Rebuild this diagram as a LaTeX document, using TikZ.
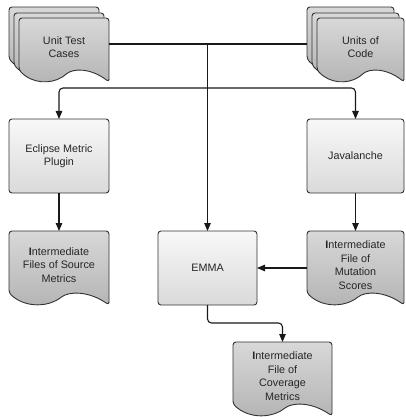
\documentclass[tikz,border=0pt]{standalone}
\usepackage{fontspec}
\setmainfont{Liberation Sans}
\usetikzlibrary{arrows.meta,calc}
\definecolor{edge}{HTML}{333333}
\definecolor{boxtop}{HTML}{F8F8F8}
\definecolor{boxbot}{HTML}{DADADA}
\definecolor{doctop}{HTML}{D8D8D8}
\definecolor{docbot}{HTML}{B4B4B4}
\definecolor{txt}{HTML}{262626}
\pgfdeclarelayer{bg}
\pgfsetlayers{bg,main}
\newcommand\docshape[3]{%
  \path[docsheet] let \p1=($(#1.north west)+(#2,#3)$), \p2=($(#1.south east)+(#2,#3)$), \n1={\x2-\x1} in
  ({\x2},{\y2-6pt}) -- ({\x2},{\y1}) -- ({\x1},{\y1}) -- ({\x1},{\y2+6pt})
  .. controls ({\x1+0.15*\n1},{\y2-8pt}) and ({\x1+0.35*\n1},{\y2-8pt}) .. ({\x1+0.5*\n1},{\y2})
  .. controls ({\x1+0.6*\n1},{\y2+8pt}) and ({\x1+0.8*\n1},{\y2+8pt}) .. ({\x2},{\y2-6pt}) -- cycle;}
\begin{document}
\begin{tikzpicture}[x=1pt,y=-1pt,
  every node/.style={font=\fontsize{10.8}{13.5}\selectfont, text=txt, align=center, inner sep=0pt, outer sep=0pt},
  procbox/.style={draw=edge, line width=0.9pt, rounded corners=3pt, top color=boxtop, bottom color=boxbot, minimum width=#1, minimum height=74pt},
  docnode/.style={minimum width=#1, minimum height=68pt},
  docsheet/.style={draw=edge, line width=0.9pt, top color=doctop, bottom color=docbot, rounded corners=3pt},
  conn/.style={draw=black!90, line width=1.1pt},
  arr/.style={conn, -{Triangle[length=8pt,width=6.5pt]}}]
\useasboundingbox (0,0) rectangle (405,417);

\node[docnode=90pt, minimum height=58pt] (utc) at (64,47) {Unit Test\\Cases};
\node[docnode=87pt, minimum height=58pt] (uoc) at (360.5,47) {Units of\\Code};
\node[procbox=100pt] (ecl) at (59,156) {Eclipse Metric\\Plugin};
\node[procbox=97pt] (jav) at (355.5,156) {Javalanche};
\node[docnode=100pt] (src) at (59,265) {\textbf{I}ntermediate\\Files of Source\\Metrics};
\node[docnode=97pt] (mut) at (355.5,265) {\textbf{I}ntermediate\\File of\\Mutation\\Scores};
\node[procbox=99pt] (emma) at (207.5,268) {EMMA};
\node[docnode=99pt] (cov) at (282.5,376) {\textbf{I}ntermediate\\File of\\Coverage\\Metrics};

\begin{pgfonlayer}{bg}
\docshape{utc}{-10}{-11}
\docshape{utc}{-5}{-5}
\docshape{utc}{0}{0}
\docshape{uoc}{-10}{-11}
\docshape{uoc}{-5}{-5}
\docshape{uoc}{0}{0}
\docshape{src}{0}{0}
\docshape{mut}{0}{0}
\docshape{cov}{0}{0}
\end{pgfonlayer}

\coordinate (j1) at (207.5,44);
\coordinate (j2) at (207.5,88);
\coordinate (uocback) at (307,44);
\draw[conn] (utc.east |- j1) -- (j1);
\draw[conn] (uocback) -- (j1);
\draw[arr] (j1) -- (emma.north);
\draw[arr, rounded corners=4pt] (j2) -| (ecl.north);
\draw[arr, rounded corners=4pt] (j2) -| (jav.north);
\draw[arr] (ecl.south) -- (src.north);
\draw[arr] (jav.south) -- (mut.north);
\draw[arr] (mut.west |- emma.east) -- (emma.east);
\draw[arr, rounded corners=4pt] (emma.south) -- ++(0,18) -| (cov.north);
\end{tikzpicture}
\end{document}
